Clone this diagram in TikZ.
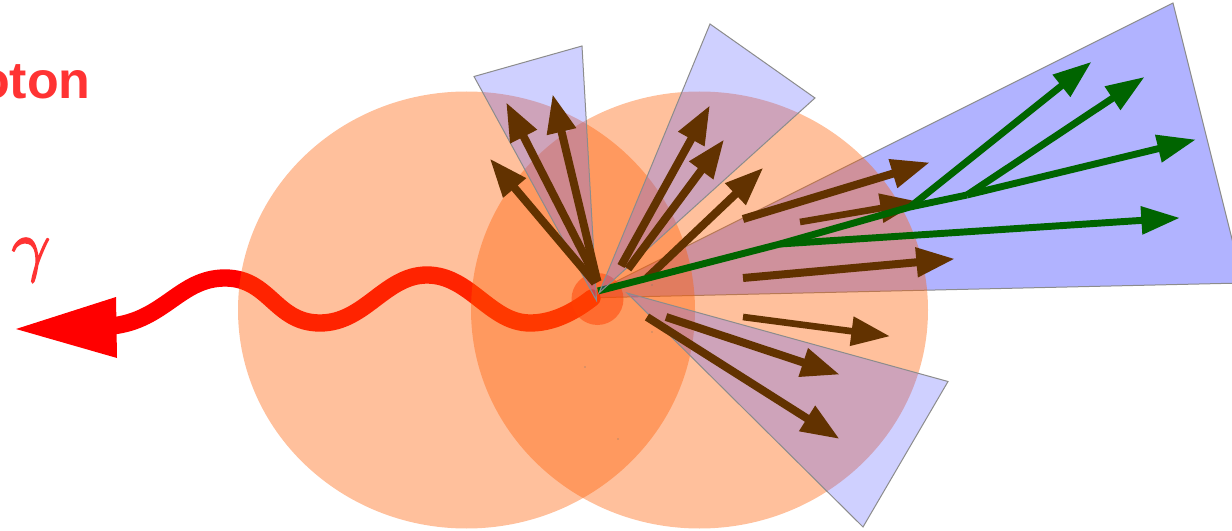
\documentclass[tikz,border=0pt]{standalone}
\usepackage{fontspec}
\setsansfont{Liberation Sans}
\usetikzlibrary{arrows.meta}
\definecolor{photonred}{HTML}{FF0000}
\definecolor{labelred}{HTML}{FF3333}
\definecolor{nucleus}{HTML}{FF5C00}
\definecolor{hotspot}{HTML}{FF4000}
\definecolor{bigjet}{HTML}{B1B3FF}
\definecolor{smalljet}{RGB}{95,98,255}
\definecolor{hadron}{HTML}{623200}
\definecolor{parton}{HTML}{006400}
\tikzset{
  nucleusdisc/.style={fill=nucleus,fill opacity=0.39,draw=none},
  hotdisc/.style={fill=hotspot,fill opacity=0.5,draw=none},
  bigcone/.style={fill=bigjet,draw=black!45,line width=0.75pt,line join=miter},
  smallcone/.style={fill=smalljet,fill opacity=0.3,draw=black!45,draw opacity=1,line width=0.75pt},
  brownarrow/.style={draw=hadron,line width=6pt,shorten >=-1.5pt,-{Triangle[length=29pt,width=21pt]}},
  greenarrow/.style={draw=parton,line width=5.2pt,shorten >=-1.5pt,-{Triangle[length=29pt,width=20pt]}},
  greenstem/.style={draw=parton,line width=5.2pt},
  speck/.style={fill=black!55,draw=none},
}
% heavier rendering for the math glyph: fill and stroke its outline
\newcommand{\heavyglyph}[1]{\special{pdf:code q 2 Tr 0.22 w 1 0.2 0.2 RG}#1\special{pdf:code 0 Tr Q}}
\begin{document}
\begin{tikzpicture}[x=0.75pt,y=-0.75pt]
  \useasboundingbox (0,0) rectangle (1232,531);
  \clip (0,0) rectangle (1232,531);

  % wide jet cone, lying behind the nuclei
  \path[bigcone] (583,298) -- (1173,3) -- (1243,283) -- cycle;

  % outgoing photon
  \draw[photonred,line width=13pt,line cap=round]
    (592,298) .. controls (570,315) and (550,323) .. (530,323)
    .. controls (490,323) and (470,275) .. (427,275)
    .. controls (385,275) and (365,323) .. (320,323)
    .. controls (275,323) and (270,278) .. (225,278)
    .. controls (180,278) and (165,320) .. (112,326);
  \fill[photonred] (16,329) -- (116,297) -- (117,358) -- cycle;

  % colliding nuclei and interaction point
  \path[nucleusdisc] (466.5,310) ellipse [x radius=228.5,y radius=218.5];
  \path[nucleusdisc] (699.5,310) ellipse [x radius=228.5,y radius=218.5];
  \path[hotdisc] (597.5,299) circle [radius=26];

  % small specks on the discs
  \path[speck] (652,332) circle [radius=0.7];
  \path[speck] (585,367) circle [radius=0.7];
  \path[speck] (618,439) circle [radius=0.7];
  \path[speck] (652,285) circle [radius=0.7];

  % hadrons passing under the parton shower
  \draw[brownarrow,line width=5pt] (800,222) -- (917,202);
  \draw[brownarrow] (647,278) -- (762,169);

  % parton shower
  \coordinate (root) at (598,291);
  \coordinate (fork1) at (780,244);
  \coordinate (fork2) at (910,207);
  \coordinate (fork3) at (967,195);
  \draw[greenstem] (root) -- (fork1) -- (fork2) -- (fork3);
  \draw[greenarrow] (fork1) -- (1178,218);
  \draw[greenarrow] (fork2) -- (1090,63);
  \draw[greenarrow] (fork3) -- (1143,78);
  \draw[greenarrow] (fork3) -- (1194,140);

  % narrow jet cones
  \path[smallcone] (596.5,300.5) -- (474,76.5) -- (582,46) -- cycle;
  \path[smallcone] (599,293) -- (710,24) -- (815,98) -- cycle;
  \path[smallcone] (627,293) -- (948,381.5) -- (863,527) -- cycle;

  % remaining hadrons
  \draw[brownarrow] (595,283) -- (491,160);
  \draw[brownarrow] (598,282) -- (507,104);
  \draw[brownarrow] (597,280) -- (553,96);
  \draw[brownarrow] (621,266) -- (709,107);
  \draw[brownarrow] (628,269) -- (723,141);
  \draw[brownarrow] (743,219) -- (928,163);
  \draw[brownarrow] (743,278) -- (953,259);
  \draw[brownarrow,line width=5pt] (743,317) -- (888,336);
  \draw[brownarrow] (666,317) -- (838,374);
  \draw[brownarrow] (647,317) -- (838,438);

  % labels
  \node[anchor=base east,inner sep=0pt,text=labelred,font=\sffamily\bfseries\fontsize{39}{44}\selectfont] (word) at (91,98.5) {oton};
  \node[anchor=base,inner sep=0pt,text=labelred,scale=5.1] (gam) at (31,268) {\heavyglyph{$\gamma$}};
\end{tikzpicture}
\end{document}
